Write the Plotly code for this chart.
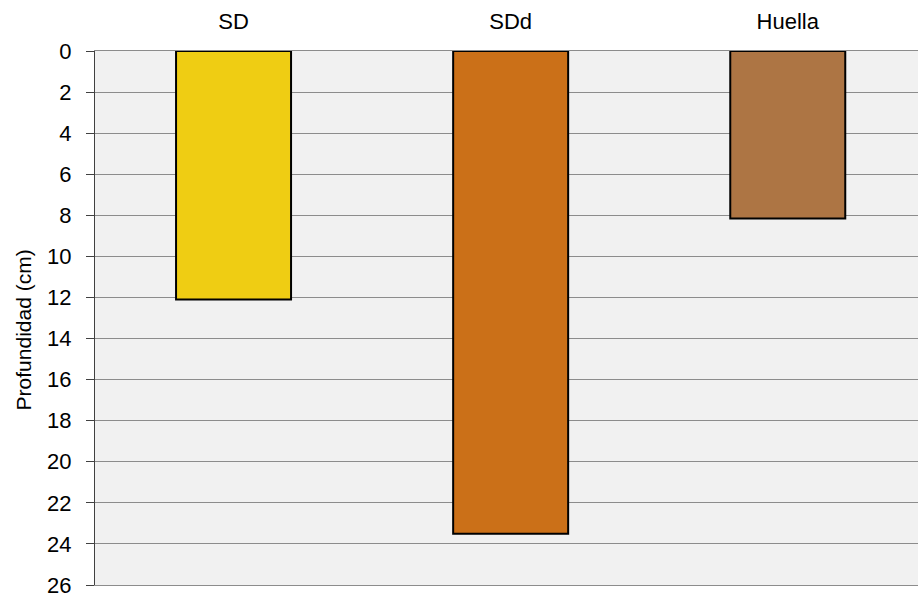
import plotly.graph_objects as go

# Depth reached per treatment (cm)
categories = ["SD", "SDd", "Huella"]
depth_cm = [12.1, 23.5, 8.15]
bar_colors = ["#EFCD13", "#CB7018", "#AD7544"]
y_ticks = list(range(0, 27, 2))
y_title = "Profundidad (cm)"

fig = go.Figure(
    go.Bar(
        x=categories,
        y=depth_cm,
        width=0.415,
        marker=dict(color=bar_colors, line=dict(color="#000000", width=2)),
    )
)

fig.update_layout(
    width=918,
    height=603,
    margin=dict(l=95, r=0, t=51, b=18),
    paper_bgcolor="white",
    plot_bgcolor="#F1F1F1",
    showlegend=False,
    font=dict(family="Liberation Sans, Arial, sans-serif", color="#000000"),
)

# Categories sit above the plot; the x-axis line (mirrored) frames top and bottom
fig.update_xaxes(
    side="top",
    type="category",
    range=[-0.5, 2.47],
    showgrid=False,
    showline=True,
    mirror=True,
    linecolor="#8C8C8C",
    linewidth=1,
    ticks="",
    ticklabelstandoff=12,
    tickfont=dict(size=22),
)

fig.update_yaxes(
    range=[26, 0],
    tickvals=y_ticks,
    showgrid=True,
    gridcolor="#8C8C8C",
    gridwidth=1,
    zeroline=False,
    showline=True,
    linecolor="#404040",
    linewidth=1,
    ticks="outside",
    ticklen=8,
    tickcolor="#404040",
    ticklabelstandoff=10,
    tickfont=dict(size=22),
)

# Rotated y-axis title placed at the far left
fig.add_annotation(
    text=y_title,
    xref="paper",
    yref="paper",
    x=-0.087,
    y=0.4775,
    xanchor="center",
    yanchor="middle",
    textangle=-90,
    showarrow=False,
    font=dict(size=21),
)

fig.write_html("out.html")
